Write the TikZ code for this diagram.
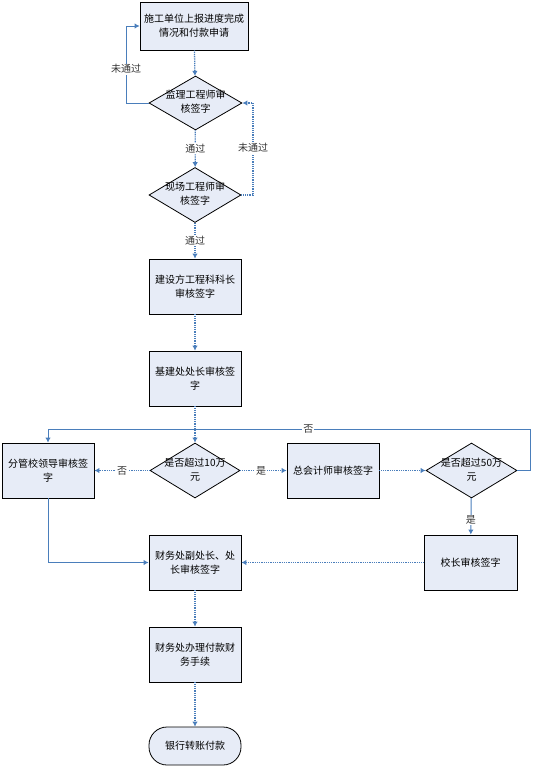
\documentclass[tikz,border=0pt]{standalone}
\usepackage{fontspec}
\setmainfont{Noto Sans CJK SC}
\usetikzlibrary{arrows.meta}
\usetikzlibrary{shapes}

\definecolor{boxfill}{RGB}{231,236,247}
\definecolor{linkblue}{RGB}{74,126,187}

\tikzset{
  box/.style={draw=black,line width=0.8bp,fill=boxfill,minimum width=92bp,minimum height=55bp,align=center,inner sep=1bp},
  dia/.style={diamond,draw=black,line width=0.8bp,fill=boxfill,minimum width=92bp,minimum height=55bp,inner sep=0bp},
  link/.style={linkblue,line width=1.3bp,dash pattern=on 1bp off 0.8bp},
  solidlink/.style={linkblue,line width=1bp},
  lbl/.style={fill=white,inner sep=1bp,text=black!80},
}
\newcommand{\diatext}[1]{\makebox[0pt]{\begin{tabular}{@{}c@{}}#1\end{tabular}}}

\begin{document}
\begin{tikzpicture}[>={Latex[length=5bp,width=5.5bp]},font=\fontsize{10bp}{14bp}\selectfont]
\useasboundingbox (0bp,0bp) rectangle (554bp,-767bp);
%%
\node (node_0) at (194bp,-26bp) [box,minimum width=108bp,minimum height=48bp] {施工单位上报进度完成\\情况和付款申请};
  \node (node_1) at (195.5bp,-103bp) [dia,minimum width=93bp,minimum height=54bp] {\diatext{监理工程师审\\核签字}};
  \node (node_2) at (195bp,-195bp) [dia] {\diatext{现场工程师审\\核签字}};
  \node (node_3) at (195bp,-286.5bp) [box] {建设方工程科科长\\审核签字};
  \node (node_4) at (195bp,-378.5bp) [box] {基建处处长审核签\\字};
  \node (node_5) at (195bp,-470.5bp) [dia,minimum width=90bp] {\diatext{是否超过10万\\元}};
  \node (node_6) at (48bp,-470.5bp) [box] {分管校领导审核签\\字};
  \node (node_7) at (333bp,-470.5bp) [box] {总会计师审核签字};
  \node (node_8) at (471.5bp,-470.5bp) [dia,minimum width=91bp] {\diatext{是否超过50万\\元}};
  \node (node_9) at (470.5bp,-562.5bp) [box,minimum width=93bp] {校长审核签字};
  \node (node_10) at (195bp,-562.5bp) [box] {财务处副处长、处\\长审核签字};
  \node (node_11) at (195bp,-654.5bp) [box] {财务处办理付款财\\务手续};
  \node (node_12) at (195bp,-746bp) [box,minimum height=38bp,rounded corners=18bp] {银行转账付款};
%
  \coordinate (c_0) at (126bp,-103bp);
  \coordinate (c_1) at (126bp,-26bp);
  \coordinate (c_2) at (253bp,-195bp);
  \coordinate (c_3) at (253bp,-103bp);
  \coordinate (c_4) at (530bp,-470.5bp);
  \coordinate (c_5) at (530bp,-429bp);
  \coordinate (c_6) at (48bp,-429bp);
%
  \draw [link,->] (node_0) -- (node_1);
  \draw [link,->] (node_1) -- node[lbl] {通过} (node_2);
  \draw [solidlink,->] (node_1.west) -- (c_0) -- node[lbl,pos=0.44] {未通过} (c_1) -- (node_0.west);
  \draw [link,->] (node_2.east) -- (c_2) -- node[lbl,pos=0.51] {未通过} (c_3) -- (node_1.east);
  \draw [link,->] (node_2) -- node[lbl] {通过} (node_3);
  \draw [link,->] (node_3) -- (node_4);
  \draw [link,->] (node_4) -- (node_5);
  \draw [link,->] (node_5) -- node[lbl] {否} (node_6);
  \draw [link,->] (node_5) -- node[lbl,pos=0.45] {是} (node_7);
  \draw [link,->] (node_7) -- (node_8);
  \draw [solidlink,->] (node_8.east) -- (c_4) -- (c_5) -- node[lbl,pos=0.46] {否} (c_6) -- (node_6.north);
  \draw [solidlink,->] (node_8) -- node[lbl,pos=0.6] {是} (node_9);
  \draw [link,->] (node_9) -- (node_10);
  \draw [solidlink,->] (node_6.south) |- (node_10.west);
  \draw [link,->] (node_10) -- (node_11);
  \draw [link,->] (node_11) -- (node_12);
%
\end{tikzpicture}
\end{document}
